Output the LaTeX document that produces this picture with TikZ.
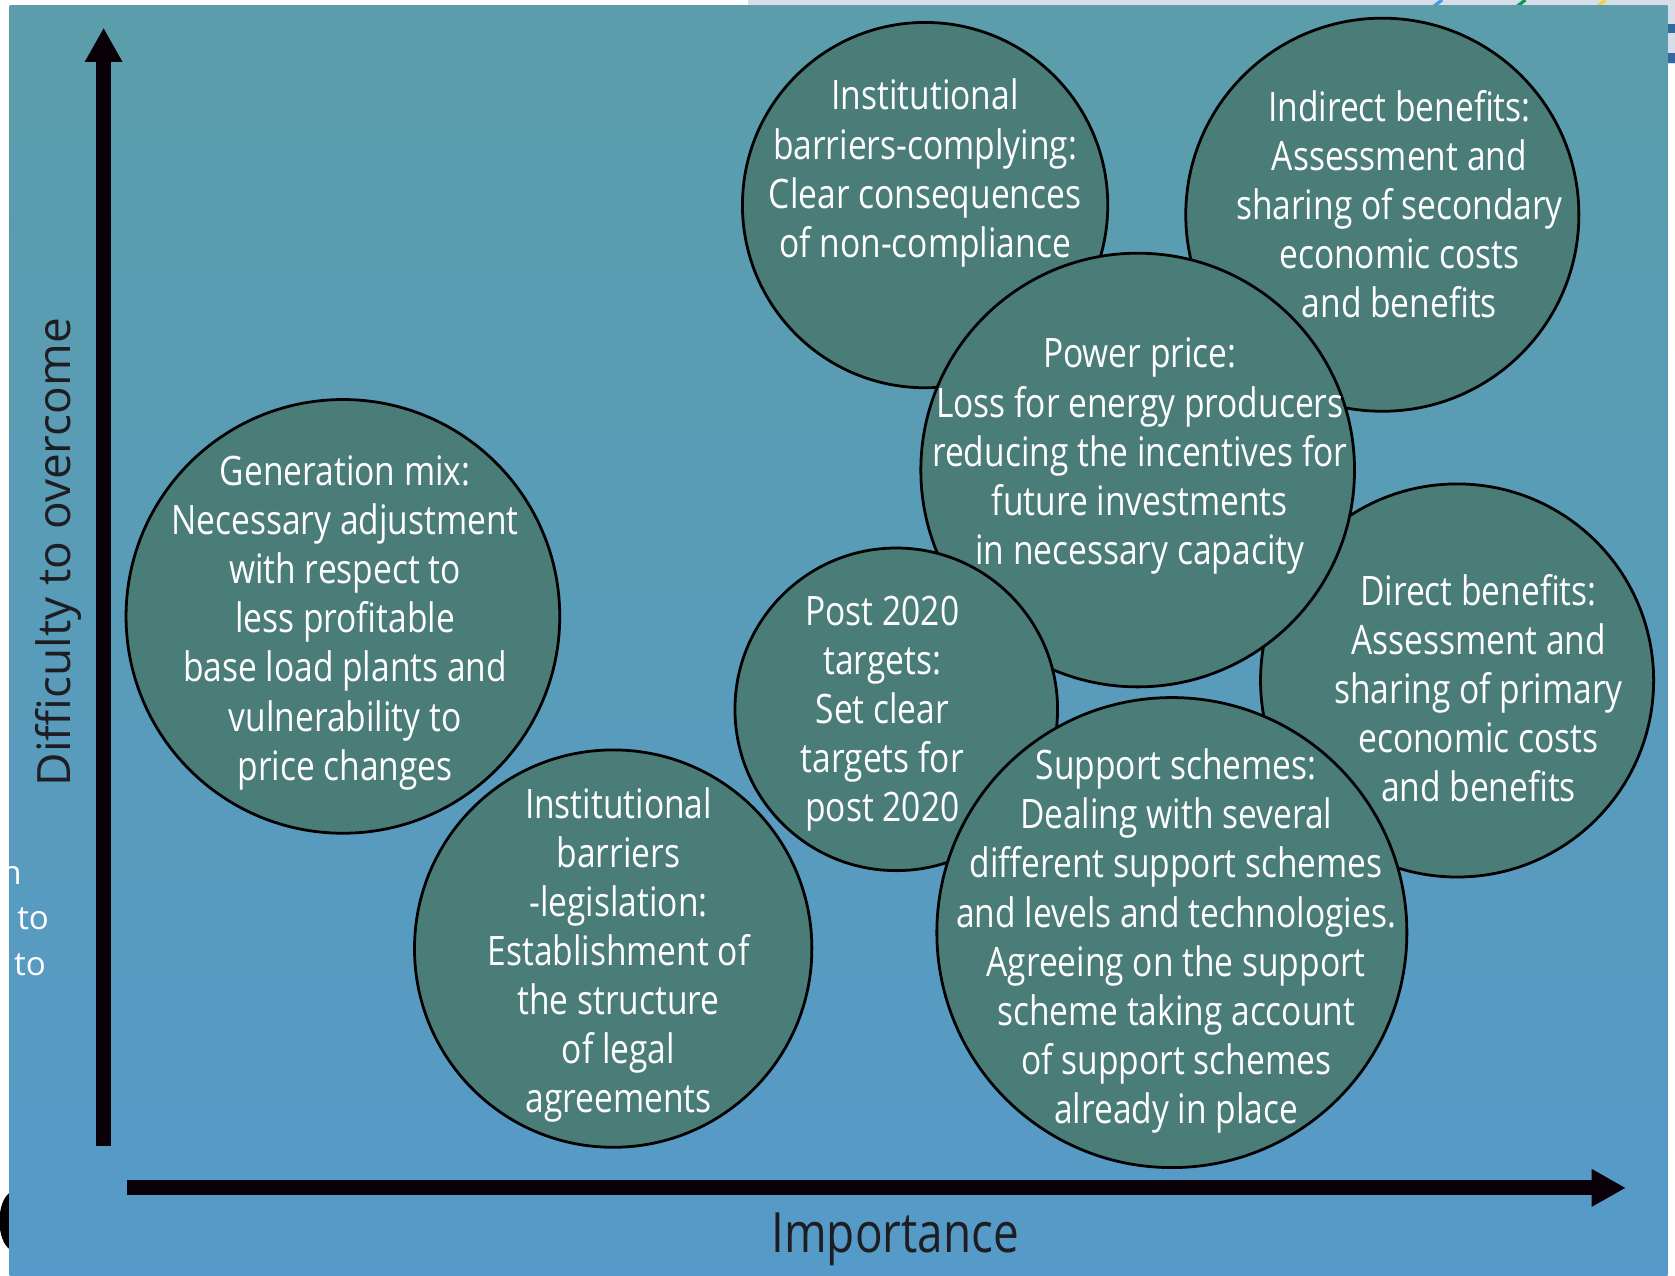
\documentclass[tikz,border=0pt]{standalone}
\usepackage{fontspec}
\setmainfont{Open Sans}
\newfontfamily\circfont[FakeStretch=0.826]{Open Sans}
\newfontfamily\axisfont{Open Sans}
\usetikzlibrary{arrows.meta}
\definecolor{bgtop}{RGB}{91,157,170}
\definecolor{bgbot}{RGB}{86,154,201}
\definecolor{circ}{RGB}{74,124,120}
\definecolor{axisink}{RGB}{10,0,8}
\definecolor{labelink}{RGB}{30,30,34}
\definecolor{stripgray}{RGB}{214,222,234}
\definecolor{barblue}{RGB}{52,104,160}
\definecolor{strokeblue}{RGB}{60,160,220}
\definecolor{strokegreen}{RGB}{20,150,70}
\definecolor{strokeyellow}{RGB}{240,210,60}
\tikzset{
  bubble/.style={circle, draw=black, line width=2.6pt, fill=circ, inner sep=0pt},
  bubbletext/.style={align=center, text=white, inner sep=0pt,
    font=\circfont\fontsize{38}{46}\selectfont},
  axisarrow/.style={line width=14pt, draw=axisink,
    -{Triangle[width=33pt,length=32pt]}},
  fragment/.style={text=white, inner sep=0pt, anchor=west,
    font=\axisfont\fontsize{31}{36}\selectfont}
}
\begin{document}
\begin{tikzpicture}[x=1pt,y=-1pt]
\useasboundingbox (0,0) rectangle (1568,1194);
% outer page
\fill[white] (0,0) rectangle (1568,1194);
\fill[stripgray] (700,0) rectangle (1568,5);
\fill[stripgray] (1561,0) rectangle (1568,60);
\fill[barblue] (1561,22) rectangle (1568,31);
\fill[barblue] (1561,50) rectangle (1568,59);
\draw[line width=3pt, strokeblue] (1342,6) -- (1350,0);
\draw[line width=3pt, strokegreen] (1420,6) -- (1428,0);
\draw[line width=3pt, strokeyellow] (1495,6) -- (1503,0);
\fill[black] (10,1116) .. controls (-4,1124) and (-4,1162) .. (10,1170) -- cycle;
% background panel
\shade[top color=bgtop, bottom color=bgbot] (9,5) rectangle (1561,1194);
% clipped text fragments at the left edge
\begin{scope}
\clip (9,5) rectangle (1561,1194);
\node[fragment] (fragn) at (1,820) {n};
\node[fragment] (fragtoa) at (16,860) {to};
\node[fragment] (fragtob) at (13,903) {to};
\end{scope}
% bubbles (drawing order = stacking order)
\node[bubble, minimum size=342pt] (ccomply) at (866,192) {};
\node[bubble, minimum size=368pt] (cindirect) at (1294,201) {};
\node[bubble, minimum size=368pt] (cdirect) at (1364,637) {};
\node[bubble, minimum size=406pt] (cpower) at (1065,440) {};
\node[bubble, minimum size=302pt] (cpost) at (839,664) {};
\node[bubble, minimum size=440pt] (csupport) at (1097,873) {};
\node[bubble, minimum size=406pt] (cgen) at (321,577) {};
\node[bubble, minimum size=372pt] (clegis) at (574,888) {};
% texts
\node[bubbletext] (tcomply) at (866,162) {Institutional\\barriers-complying:\\Clear consequences\\of non-compliance};
\node[bubbletext] (tindirect) at (1310,191) {Indirect benefits:\\Assessment and\\sharing of secondary\\economic costs\\and benefits};
\node[bubbletext] (tdirect) at (1384,644) {Direct benefits:\\Assessment and\\sharing of primary\\economic costs\\and benefits};
\node[bubbletext] (tpower) at (1067,427) {Power price:\\Loss for energy producers\\reducing the incentives for\\future investments\\in necessary capacity};
\node[bubbletext] (tpost) at (826,668) {Post 2020\\targets:\\Set clear\\targets for\\post 2020};
\node[bubbletext] (tsupport) at (1101,881) {Support schemes:\\Dealing with several\\different support schemes\\and levels and technologies.\\Agreeing on the support\\scheme taking account\\of support schemes\\already in place};
\node[bubbletext] (tgen) at (323,583) {Generation mix:\\Necessary adjustment\\with respect to\\less profitable\\base load plants and\\vulnerability to\\price changes};
\node[bubbletext] (tlegis) at (579,894) {Institutional\\barriers\\-legislation:\\Establishment of\\the structure\\of legal\\agreements};
% axes
\coordinate (yorig) at (97,1073);
\coordinate (ytip) at (97,26);
\coordinate (xorig) at (119,1112);
\coordinate (xtip) at (1522,1112);
\draw[axisarrow] (yorig) -- (ytip);
\draw[axisarrow] (xorig) -- (xtip);
\node[rotate=90, text=labelink, inner sep=0pt, font=\axisfont\fontsize{43}{50}\selectfont] (ylabel) at (55,517) {Difficulty to overcome};
\node[text=labelink, inner sep=0pt, font=\circfont\fontsize{52}{60}\selectfont] (xlabel) at (838,1160) {Importance};
\end{tikzpicture}
\end{document}
